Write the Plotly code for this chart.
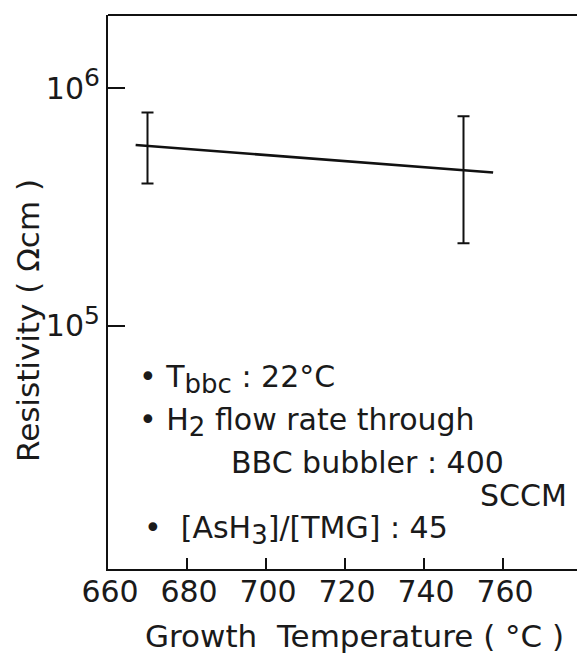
import plotly.graph_objects as go

# Measured resistivity vs. growth temperature (mean with spread)
temps = [670, 750]
resistivity = [5.72e5, 4.49e5]
err_plus = [2.18e5, 3.12e5]     # upper bar = 7.9e5, 7.61e5
err_minus = [1.75e5, 2.27e5]    # lower bar = 3.97e5, 2.22e5

# Trend line drawn across the data
fit_temps = [667, 757.5]
fit_resistivity = [5.76e5, 4.41e5]

x_ticks = [660, 680, 700, 720, 740, 760]
y_ticks = [1e5, 1e6]
y_ticktext = ["10<sup><span style='font-size:25px'>5</span></sup>",
              "10<sup><span style='font-size:25px'>6</span></sup>"]

FONT = "DejaVu Sans"

fig = go.Figure()

fig.add_trace(go.Scatter(
    x=fit_temps, y=fit_resistivity, mode="lines",
    line=dict(color="#111", width=2.6), showlegend=False, hoverinfo="skip"))

fig.add_trace(go.Scatter(
    x=temps, y=resistivity, mode="markers",
    marker=dict(size=1, color="rgba(0,0,0,0)"),
    error_y=dict(type="data", symmetric=False, array=err_plus, arrayminus=err_minus,
                 color="#111", thickness=2, width=6),
    showlegend=False))

# plot area in pixels: x 108..577, y 15..569
L, R, T, B = 108, 577, 15, 569
W, H = 577, 653


def px(x):
    return (x - L) / (R - L)


def py(y):
    return (B - y) / (B - T)


fig.update_layout(
    width=W, height=H,
    margin=dict(l=L, r=W - R, t=T, b=H - B),
    paper_bgcolor="white", plot_bgcolor="white",
    font=dict(family=FONT, color="#1a1a1a"),
    xaxis=dict(range=[660, 660 + (R - L) / 3.95], tickvals=x_ticks,
               ticks="inside", ticklen=11, tickwidth=2, tickcolor="#111",
               ticklabelstandoff=-5, ticklabelshift=2,
               showline=True, linecolor="#111", linewidth=2.2, mirror=False,
               showgrid=False, zeroline=False,
               tickfont=dict(family=FONT, size=30, color="#1a1a1a")),
    yaxis=dict(type="log", range=[3.975, 6.308], tickvals=y_ticks, ticktext=y_ticktext,
               ticks="inside", ticklen=17, tickwidth=2, tickcolor="#111",
               showline=True, linecolor="#111", linewidth=2.2, mirror=False,
               showgrid=False, zeroline=False,
               tickfont=dict(family=FONT, size=30, color="#1a1a1a")),
)

# top frame line
fig.add_shape(type="line", xref="paper", yref="paper", x0=0, x1=1, y0=1, y1=1,
              line=dict(color="#111", width=2.2))


def sub(s):
    return "<sub><span style='font-size:26px'>" + s + "</span></sub>"


notes = [
    ("\u2022 T" + sub("bbc") + " : 22\u00b0C", 137, 379),
    ("\u2022 H" + sub("2") + " flow rate through", 137, 422),
    ("BBC bubbler : 400", 229, 463),
    ("SCCM", 478, 495),
    ("\u2022  [AsH" + sub("3") + "]/[TMG] : 45", 142, 530),
]
for text, x, y in notes:
    fig.add_annotation(text=text, xref="paper", yref="paper", x=px(x), y=py(y),
                       xanchor="left", yanchor="middle", showarrow=False,
                       font=dict(family=FONT, size=30, color="#1a1a1a"))

fig.add_annotation(text="Growth  Temperature ( \u00b0C )", xref="paper", yref="paper",
                   x=px(354), y=py(636), xanchor="center", yanchor="middle",
                   showarrow=False, font=dict(family=FONT, size=31, color="#1a1a1a"))

fig.add_annotation(text="Resistivity ( \u03a9cm )", xref="paper", yref="paper",
                   x=px(28), y=py(321), xanchor="center", yanchor="middle", textangle=-90,
                   showarrow=False, font=dict(family=FONT, size=31, color="#1a1a1a"))

fig.write_html("out.html")
